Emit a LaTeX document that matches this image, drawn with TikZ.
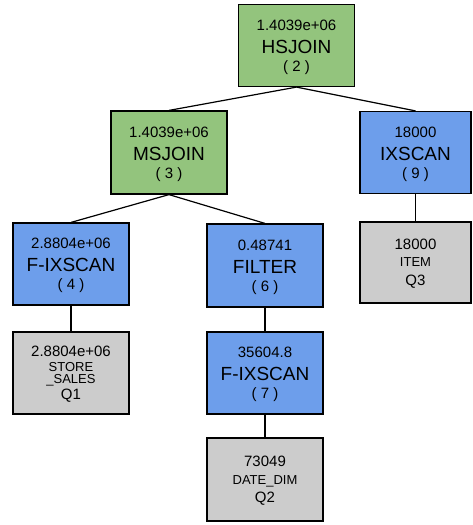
\documentclass[tikz,border=0pt]{standalone}
\usepackage{fontspec}
\setmainfont{Liberation Sans}
\usepackage{tikz}
\usetikzlibrary{positioning}
\definecolor{joingreen}{HTML}{93C47D}
\definecolor{scanblue}{HTML}{6D9EEB}
\definecolor{tablegray}{HTML}{CCCCCC}
\newcommand{\planop}[1]{{\fontsize{19}{18}\selectfont #1}}
\newcommand{\plantab}[1]{{\fontsize{13}{18}\selectfont #1}}
\newcommand{\planq}[1]{{\fontsize{15}{18}\selectfont #1}}

\begin{document}
\begin{tikzpicture}[x=1pt,y=-1pt]

%--------------------------------------------------
% STYLES
%--------------------------------------------------

\tikzset{
planbox/.style={
draw=black,
line width=1.2pt,
minimum width=116pt,
minimum height=82pt,
align=center,
inner sep=0pt,
text depth=0pt,
font=\fontsize{15}{18}\selectfont
},
joinbox/.style={planbox,fill=joingreen},
scanbox/.style={planbox,fill=scanblue},
tablebox/.style={planbox,fill=tablegray},
planedge/.style={line width=1.2pt}
}

\useasboundingbox (0,0) rectangle (473,525);

%--------------------------------------------------
% JOINS
%--------------------------------------------------

\node[joinbox] (hsjoin) at (296.5,45.5)
{1.4039e+06\\[5pt]\planop{HSJOIN}\\( 2 )};

\node[joinbox,minimum height=83pt] (msjoin) at (169,152.5)
{1.4039e+06\\[5pt]\planop{MSJOIN}\\( 3 )};

%--------------------------------------------------
% SCANS
%--------------------------------------------------

\node[scanbox,minimum width=111pt] (ixscan) at (415.5,152.5)
{18000\\[5pt]\planop{IXSCAN}\\( 9 )};

\node[scanbox] (fixscanA) at (71,264)
{2.8804e+06\\[5pt]\planop{F-IXSCAN}\\( 4 )};

\node[scanbox,minimum height=83pt] (filter) at (265,265.5)
{0.48741\\[5pt]\planop{FILTER}\\( 6 )};

\node[scanbox] (fixscanB) at (265,373)
{35604.8\\[5pt]\planop{F-IXSCAN}\\( 7 )};

%--------------------------------------------------
% TABLES
%--------------------------------------------------

\node[tablebox,minimum width=111pt,minimum height=81pt] (item) at (415.5,262.5)
{18000\\[-1pt]\plantab{ITEM}\\[1pt]\planq{Q3}};

\node[tablebox] (storesales) at (71,373)
{2.8804e+06\\[-3pt]\plantab{STORE}\\[-6pt]\plantab{\_SALES}\\[-2pt]\planq{Q1}};

\node[tablebox,minimum height=83pt] (datedim) at (265,479.5)
{73049\\\plantab{DATE\_DIM}\\\planq{Q2}};

%--------------------------------------------------
% EDGES
%--------------------------------------------------

\draw[planedge] (hsjoin.south) -- (msjoin.north);
\draw[planedge] (hsjoin.south) -- (ixscan.north);
\draw[planedge] (msjoin.south) -- (fixscanA.north);
\draw[planedge] (msjoin.south) -- (filter.north);
\draw[planedge] (fixscanA.south) -- (storesales.north);
\draw[planedge] (filter.south) -- (fixscanB.north);
\draw[planedge] (fixscanB.south) -- (datedim.north);
\draw[planedge] (ixscan.south) -- (item.north);

\end{tikzpicture}
\end{document}
